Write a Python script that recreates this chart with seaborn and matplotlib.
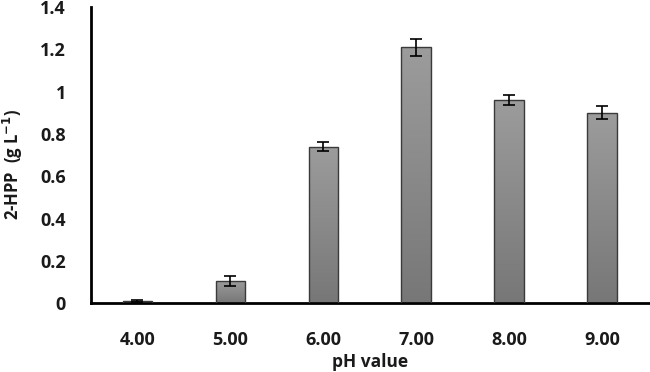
import numpy as np
import matplotlib
matplotlib.use("Agg")
import matplotlib.pyplot as plt
import matplotlib.ticker as mticker
import pandas as pd
import seaborn as sns

# data
ph_labels = ["4.00", "5.00", "6.00", "7.00", "8.00", "9.00"]
hpp = [0.01, 0.105, 0.74, 1.21, 0.96, 0.90]
hpp_err = [0.003, 0.025, 0.02, 0.04, 0.025, 0.03]

df = pd.DataFrame({"pH": ph_labels, "hpp": hpp})

sns.set_style("white")
plt.rcParams["font.family"] = ["Open Sans", "DejaVu Sans"]

fig = plt.figure(figsize=(6.5, 3.72), dpi=100)
ax = fig.add_axes([0.14, 0.185, 0.858, 0.796])

sns.barplot(data=df, x="pH", y="hpp", color="#888888", width=0.32,
            edgecolor="#3a3a3a", linewidth=1.0, ax=ax, zorder=2)

# grey gradient fill inside each bar (lighter on top)
grad = np.linspace(0, 1, 256).reshape(-1, 1)
cmap = matplotlib.colors.LinearSegmentedColormap.from_list("g", ["#777777", "#9c9c9c"])
for p in ax.patches:
    x0, y0 = p.get_x(), p.get_y()
    w, h = p.get_width(), p.get_height()
    im = ax.imshow(grad, extent=[x0, x0 + w, y0, y0 + h], origin="lower",
                   cmap=cmap, aspect="auto", zorder=2.5)
    im.set_clip_path(p)
    p.set_facecolor("none")
    p.set_zorder(3)

ax.errorbar(np.arange(len(hpp)), hpp, yerr=hpp_err, fmt="none",
            ecolor="black", elinewidth=1.2, capsize=4, capthick=1.2, zorder=4)

ax.set_xlim(-0.5, len(hpp) - 0.5)
ax.set_ylim(0, 1.4)
ax.yaxis.set_major_locator(mticker.MultipleLocator(0.2))
ax.yaxis.set_major_formatter(mticker.FuncFormatter(lambda v, _: f"{v:g}"))

for s in ["top", "right"]:
    ax.spines[s].set_visible(False)
for s in ["left", "bottom"]:
    ax.spines[s].set_color("black")
    ax.spines[s].set_linewidth(2)

ax.tick_params(axis="both", length=0, labelsize=13, colors="#1a1a1a")
ax.tick_params(axis="y", pad=18)
ax.tick_params(axis="x", pad=20)
for lab in ax.get_xticklabels() + ax.get_yticklabels():
    lab.set_fontweight("bold")

ax.set_xlabel("pH value", fontsize=12.5, fontweight="bold", color="#1a1a1a", labelpad=3)
ax.set_ylabel("2-HPP  (g L$^{\\mathbf{-1}}$)", fontsize=12, fontweight="bold",
              color="#1a1a1a")
ax.yaxis.set_label_coords(-0.118, 0.47)

fig.savefig("out.png", dpi=100)
